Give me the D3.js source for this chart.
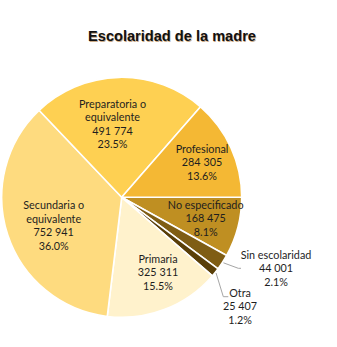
<!DOCTYPE html>
<html><head><meta charset="utf-8">
<script src="https://cdn.jsdelivr.net/npm/d3@7"></script>
<style>
html,body{margin:0;padding:0;background:#fff;}
svg{display:block;}
</style></head>
<body>
<svg id="chart" width="337" height="347"></svg>
<script>
const title = "Escolaridad de la madre";
const categories = ["No especificado","Sin escolaridad","Otra","Primaria","Secundaria o equivalente","Preparatoria o equivalente","Profesional"];
const values = [168475, 44001, 25407, 325311, 752941, 491774, 284305];
const valueLabels = ["168 475","44 001","25 407","325 311","752 941","491 774","284 305"];
const percentLabels = ["8.1%","2.1%","1.2%","15.5%","36.0%","23.5%","13.6%"];
const labelLines = [["No especificado"],["Sin escolaridad"],["Otra"],["Primaria"],["Secundaria  o","equivalente"],["Preparatoria o","equivalente"],["Profesional"]];
const colors = ["#BF8F22","#7F5D14","#5A3F08","#FFF2CC","#FEDB7F","#FED052","#F4B834"];

const svg = d3.select("#chart");
const cx = 121.7, cy = 197.3, R = 120;

svg.append("text").attr("x",172).attr("y",41).attr("text-anchor","middle")
  .attr("font-family","Liberation Sans, Arial, sans-serif").attr("font-weight","bold")
  .attr("font-size",14.6).attr("fill","#9a5a10").attr("opacity",0.5)
  .attr("transform","translate(0.7,0.7)").text(title);
svg.append("text").attr("x",172).attr("y",41).attr("text-anchor","middle")
  .attr("font-family","Liberation Sans, Arial, sans-serif").attr("font-weight","bold")
  .attr("font-size",14.6).attr("fill","#111").text(title);

const pie = d3.pie().sort(null).value(d=>d).startAngle(Math.PI/2).endAngle(Math.PI/2+2*Math.PI);
const arcs = pie(values);
const arc = d3.arc().innerRadius(0).outerRadius(R);
const g = svg.append("g").attr("transform",`translate(${cx},${cy})`);
g.selectAll("path").data(arcs).join("path")
  .attr("d",arc).attr("fill",(d,i)=>colors[i])
  .attr("stroke","#fff").attr("stroke-width",1.6).attr("stroke-linejoin","round");

const lh = 13.4;
const fontFam = "Lato, Liberation Sans, Arial, sans-serif";
const anchors = [
  {x:205.7, y:205}, {x:276, y:255}, {x:240, y:293.3}, {x:158, y:259},
  {x:53.7, y:205.7}, {x:112.5, y:104.3}, {x:202, y:149.3}
];
arcs.forEach((a,i)=>{
  const lines = labelLines[i].concat([valueLabels[i], percentLabels[i]]);
  const t = svg.append("text").attr("text-anchor","middle")
    .attr("font-family",fontFam).attr("font-size",10.8).attr("fill","#1e1e1e");
  lines.forEach((s,j)=>{
    t.append("tspan").attr("x",anchors[i].x).attr("y",anchors[i].y + j*lh).attr("dy","0.35em").text(s);
  });
});

// leader lines
const leader = d3.line();
function edgePoint(a, r){ const m=(a.startAngle+a.endAngle)/2; return [cx + r*Math.sin(m), cy - r*Math.cos(m)]; }
const p1 = edgePoint(arcs[1], R+1);
svg.append("path").attr("d", leader([p1,[238.3,268.3],[241,268.3]])).attr("fill","none").attr("stroke","#a6a6a6").attr("stroke-width",1);
const p2 = edgePoint(arcs[2], R+1);
svg.append("path").attr("d", leader([p2,[223.3,296.7],[228.3,296.7]])).attr("fill","none").attr("stroke","#a6a6a6").attr("stroke-width",1);
</script>
</body></html>
